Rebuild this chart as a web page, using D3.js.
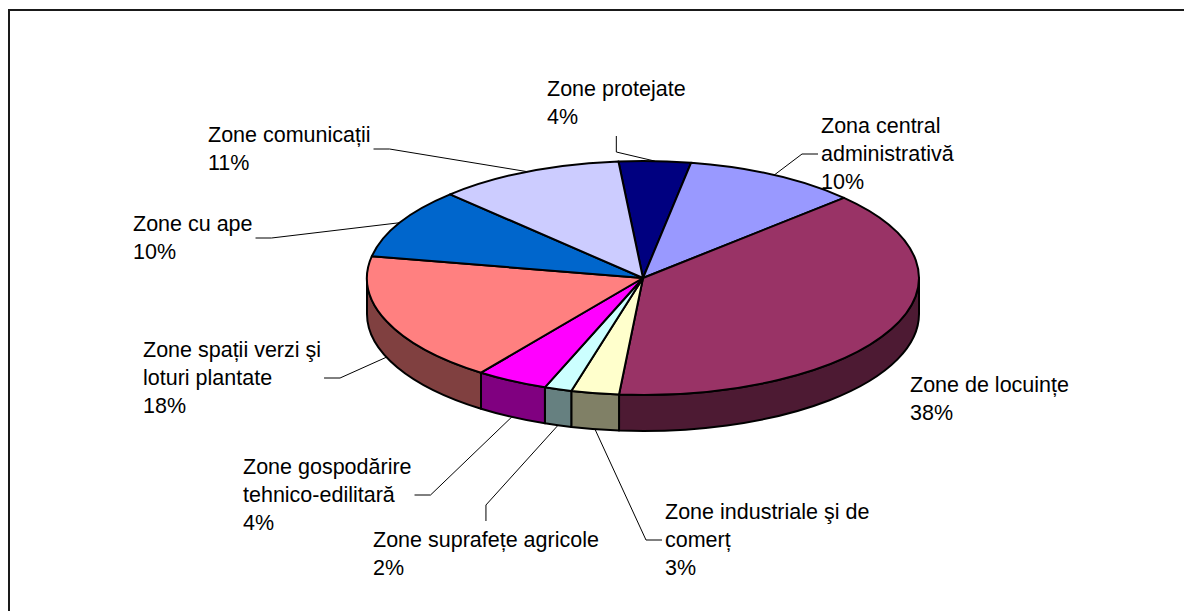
<!DOCTYPE html>
<html>
<head>
<meta charset="utf-8">
<script src="https://cdn.jsdelivr.net/npm/d3@7"></script>
<style>
    html, body { margin: 0; background: #fff; overflow: hidden; }
    svg { display: block; }
    .label text { font-family: "Liberation Sans", Arial, sans-serif; font-size: 21.5px; fill: #000; }
    .leader { fill: none; stroke: #000; stroke-width: 1; }
    .slice path { stroke: #000; stroke-width: 2; stroke-linejoin: round; }
    .frame { fill: none; stroke: #1a1a1a; stroke-width: 2; }
</style>
</head>
<body>
<svg id="chart" width="1184" height="611"></svg>
<script>
/**
 * Data: land use zones, clockwise from the top of the pie (share of total area, %).
 */
const categories = [
    'Zone protejate',
    'Zona central administrativă',
    'Zone de locuințe',
    'Zone industriale şi de comerț',
    'Zone suprafețe agricole',
    'Zone gospodărire tehnico-edilitară',
    'Zone spații verzi şi loturi plantate',
    'Zone cu ape',
    'Zone comunicații'
];
const values = [4.2, 10.2, 38.4, 2.8, 1.6, 4.2, 18.0, 9.7, 10.9];

/**
 * Visual configs.
 */
const palette = ['#000080', '#9999ff', '#993366', '#ffffcc', '#ccffff', '#ff00ff', '#ff8080', '#0066cc', '#ccccff'];

const cx = 643, cy = 278, // Centre of the top face
    rx = 276, ry = 117,   // Radii of the top ellipse
    depth = 36,           // Thickness of the pie
    startDeg = -5.1;      // Where the first slice starts, clockwise from 12 o'clock

const lineHeight = 28,
    stub = 16, gapX = 3, gapY = 7;

// Where each label block sits (first baseline) and how wide it may wrap
const labelLayout = [
    { x: 547, y: 96, wrap: 300 },
    { x: 821, y: 133, wrap: 150 },
    { x: 910, y: 392, wrap: 300, leader: false },
    { x: 665, y: 519, wrap: 215 },
    { x: 373, y: 547, wrap: 300 },
    { x: 243, y: 474, wrap: 180 },
    { x: 143, y: 357, wrap: 190 },
    { x: 133, y: 231, wrap: 300 },
    { x: 208, y: 142, wrap: 300 }
];

/**
 * D3.
 */
const svg = d3.select('#chart');
const color = d3.scaleOrdinal().domain(categories).range(palette);
const sideColor = name => {
    const c = d3.rgb(color(name));
    return d3.rgb(c.r / 2, c.g / 2, c.b / 2).formatHex();
};

const start = startDeg * Math.PI / 180;
const pie = d3.pie().sort(null).value(d => d.value)
    .startAngle(start).endAngle(start + 2 * Math.PI);

const total = d3.sum(values);
const slices = pie(categories.map((name, i) => ({ name, value: values[i], layout: labelLayout[i] })));

// Point on the ellipse at angle t (clockwise from top), optionally shifted down
function pt(t, dy = 0) {
    return [cx + rx * Math.sin(t), cy - ry * Math.cos(t) + dy];
}

function topPath(d) {
    const large = d.endAngle - d.startAngle > Math.PI ? 1 : 0;
    return 'M' + cx + ',' + cy + 'L' + pt(d.startAngle) +
        'A' + rx + ',' + ry + ' 0 ' + large + ' 1 ' + pt(d.endAngle) + 'Z';
}

// Visible outer wall: the part of the arc facing the viewer (between 90° and 270°)
function sidePath(d) {
    const a = Math.max(d.startAngle, Math.PI / 2),
        b = Math.min(d.endAngle, 3 * Math.PI / 2);
    if (b <= a) return null;
    return 'M' + pt(a) + 'A' + rx + ',' + ry + ' 0 0 1 ' + pt(b) +
        'L' + pt(b, depth) + 'A' + rx + ',' + ry + ' 0 0 0 ' + pt(a, depth) + 'Z';
}

/**
 * Draw.
 */
svg.append('rect').attr('class', 'frame')
    .attr('x', 9).attr('y', 10).attr('width', 1300).attr('height', 700);

const pieG = svg.append('g').attr('class', 'slice');

pieG.selectAll('.side').data(slices.filter(d => sidePath(d)))
    .enter().append('path').attr('class', 'side')
    .attr('d', sidePath)
    .attr('fill', d => sideColor(d.data.name));

pieG.selectAll('.top').data(slices)
    .enter().append('path').attr('class', 'top')
    .attr('d', topPath)
    .attr('fill', d => color(d.data.name));

// Labels
const labelG = svg.append('g').attr('class', 'label');

slices.forEach(d => {
    const lay = d.data.layout;
    const g = labelG.append('g');
    const text = g.append('text');

    // Greedy word wrap of the category name, then the percentage on its own line
    const words = d.data.name.split(' ');
    const lines = [];
    let line = [];
    const probe = text.append('tspan');
    words.forEach(w => {
        probe.text(line.concat(w).join(' '));
        if (line.length && probe.node().getComputedTextLength() > lay.wrap) {
            lines.push(line.join(' '));
            line = [w];
        } else {
            line.push(w);
        }
    });
    lines.push(line.join(' '));
    lines.push(Math.round(d.data.value / total * 100) + '%');
    probe.remove();

    text.selectAll('tspan').data(lines).enter().append('tspan')
        .attr('x', lay.x)
        .attr('y', (l, i) => lay.y + i * lineHeight)
        .text(l => l);

    if (lay.leader === false) return;

    // Leader line from the slice edge to the nearest side of the label
    const mid = (d.startAngle + d.endAngle) / 2;
    const front = Math.cos(mid) < 0;
    const anchor = pt(mid, front ? depth : 0);
    const box = g.node().getBBox();
    const midX = box.x + box.width / 2, midY = box.y + box.height / 2;

    let conn, elbow;
    if (anchor[0] < box.x) {
        conn = [box.x - gapX, midY]; elbow = [conn[0] - stub, midY];
    } else if (anchor[0] > box.x + box.width) {
        conn = [box.x + box.width + gapX, midY]; elbow = [conn[0] + stub, midY];
    } else if (anchor[1] > box.y + box.height) {
        conn = [midX, box.y + box.height + gapY]; elbow = [midX, conn[1] + stub];
    } else {
        conn = [midX, box.y - gapY]; elbow = [midX, conn[1] - stub];
    }

    svg.append('path').attr('class', 'leader')
        .attr('d', d3.line()([conn, elbow, anchor]));
});
</script>
</body>
</html>
